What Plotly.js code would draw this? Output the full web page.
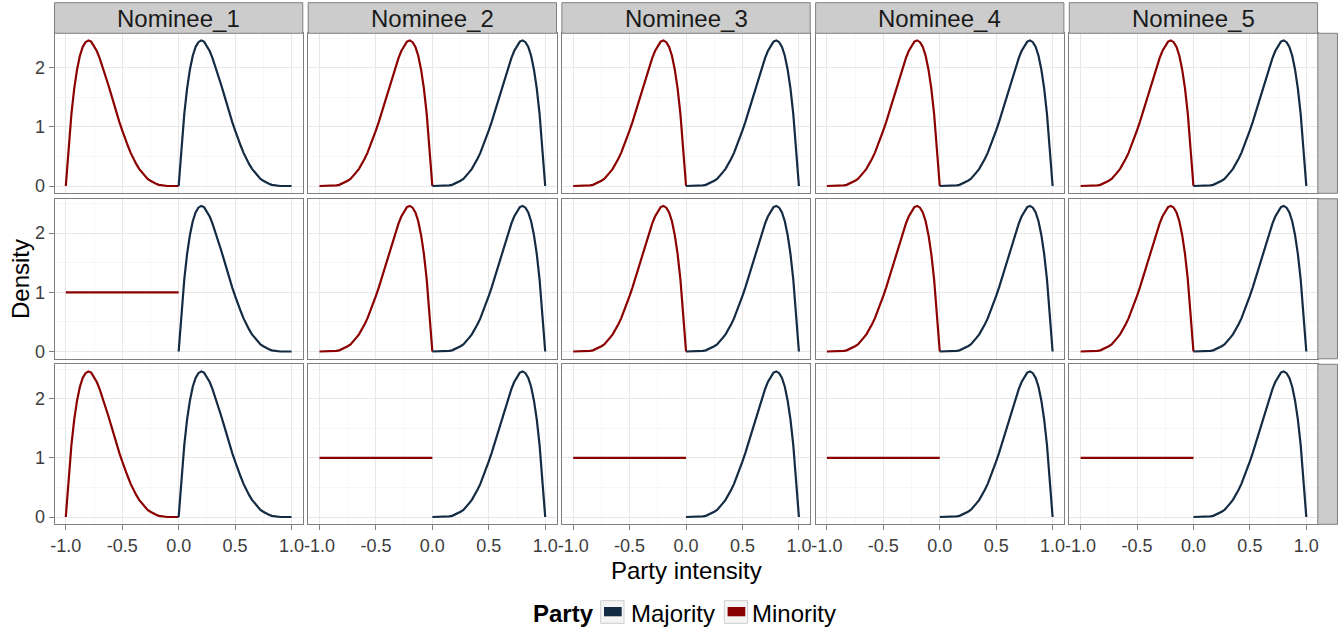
<!DOCTYPE html>
<html>
<head>
<meta charset="utf-8">
<script src="https://cdn.plot.ly/plotly-3.0.1.min.js"></script>
<style>html,body{margin:0;padding:0;background:#fff;}#chart{width:1344px;height:635px;}</style>
</head>
<body>
<div id="chart"></div>
<script>
// ---------------- data ----------------
var nominees = ["Nominee_1", "Nominee_2", "Nominee_3", "Nominee_4", "Nominee_5"];
var partyLabels = ["Majority", "Minority"];
var xTickVals = [-1, -0.5, 0, 0.5, 1];
var xTickText = ["-1.0", "-0.5", "0.0", "0.5", "1.0"];
var yTickVals = [0, 1, 2];
var yTickText = ["0", "1", "2"];

// party intensity grid for the majority side (0..1) and minority side (-1..0)
var majorityX = [0,0.025,0.05,0.075,0.1,0.125,0.15,0.175,0.2,0.225,0.25,0.275,0.3,0.325,0.35,0.375,0.4,0.425,0.45,0.475,0.5,
                 0.525,0.55,0.575,0.6,0.625,0.65,0.675,0.7,0.725,0.75,0.775,0.8,0.825,0.85,0.875,0.9,0.925,0.95,0.975,1];
var minorityX = [-1,-0.975,-0.95,-0.925,-0.9,-0.875,-0.85,-0.825,-0.8,-0.775,-0.75,-0.725,-0.7,-0.675,-0.65,-0.625,-0.6,-0.575,-0.55,-0.525,-0.5,
                 -0.475,-0.45,-0.425,-0.4,-0.375,-0.35,-0.325,-0.3,-0.275,-0.25,-0.225,-0.2,-0.175,-0.15,-0.125,-0.1,-0.075,-0.05,-0.025,0];
// density curve peaking near the low end of its interval
var densityPeakLow = [0,0.68,1.22,1.65,1.97,2.20,2.35,2.43,2.46,2.44,2.37,2.28,2.16,2.02,1.87,1.72,1.56,1.39,1.24,1.08,0.94,
                      0.80,0.68,0.56,0.46,0.37,0.29,0.23,0.17,0.12,0.09,0.06,0.04,0.02,0.01,0.01,0.00,0,0,0,0];
// density curve peaking near the high end of its interval
var densityPeakHigh = [0,0,0,0,0.00,0.01,0.01,0.02,0.04,0.06,0.09,0.12,0.17,0.23,0.29,0.37,0.46,0.56,0.68,0.80,0.94,
                       1.08,1.24,1.39,1.56,1.72,1.87,2.02,2.16,2.28,2.37,2.44,2.46,2.43,2.35,2.20,1.97,1.65,1.22,0.68,0];
// flat density for the minority side
var uniformX = [-1, 0];
var uniformY = [1, 1];

// which curve each panel shows: rows x columns
var majorityShape = [
  ["low","high","high","high","high"],
  ["low","high","high","high","high"],
  ["low","high","high","high","high"]
];
var minorityShape = [
  ["low","high","high","high","high"],
  ["flat","high","high","high","high"],
  ["low","flat","flat","flat","flat"]
];

// ---------------- styling / layout ----------------
var W = 1344, H = 635;
var colMajority = "#132B43", colMinority = "#8B0000";
var FONT = "Liberation Sans, Arial, sans-serif";
function px(x){ return x / W; }
function py(y){ return 1 - y / H; }

var panelLeft0 = 54.5, panelW = 248.3, panelStepX = 253.7;
var panelTop0 = 33.3, panelH = 160, panelStepY = 165.5;
var stripTop = 2.7;
var rightStripL = 1317.8, rightStripR = 1337.5;

function curveFor(kind, side){
  if (kind === "flat") return {x: uniformX, y: uniformY};
  var xs = side === "maj" ? majorityX : minorityX;
  return {x: xs, y: kind === "low" ? densityPeakLow : densityPeakHigh};
}

var traces = [];
var layout = {
  width: W, height: H,
  margin: {l:0, r:0, t:0, b:0},
  paper_bgcolor: "#ffffff", plot_bgcolor: "#ffffff",
  showlegend: false,
  font: {family: FONT, size: 18, color: "#4d4d4d"},
  shapes: [], annotations: []
};

for (var r = 0; r < 3; r++){
  for (var c = 0; c < 5; c++){
    var idx = r * 5 + c + 1;
    var xa = "x" + (idx === 1 ? "" : idx), ya = "y" + (idx === 1 ? "" : idx);
    var xKey = "xaxis" + (idx === 1 ? "" : idx), yKey = "yaxis" + (idx === 1 ? "" : idx);
    var L = panelLeft0 + c * panelStepX, T = panelTop0 + r * panelStepY;
    layout[xKey] = {
      domain: [px(L), px(L + panelW)], anchor: ya, range: [-1.1, 1.1],
      tickvals: xTickVals, ticktext: xTickText,
      showticklabels: r === 2, ticks: r === 2 ? "outside" : "", ticklen: 5, tickcolor: "#7f7f7f",
      tickfont: {size: 18, color: "#3d3d3d", family: FONT},
      showgrid: true, gridcolor: "#e8e8e8", gridwidth: 1, zeroline: false,
      minor: {tick0: -1, dtick: 0.25, showgrid: true, gridcolor: "#f7f7f7", gridwidth: 1},
      showline: true, mirror: true, linecolor: "#7f7f7f", linewidth: 1, fixedrange: true
    };
    layout[yKey] = {
      domain: [py(T + panelH), py(T)], anchor: xa, range: [-0.123, 2.58],
      tickvals: yTickVals, ticktext: yTickText,
      showticklabels: c === 0, ticks: c === 0 ? "outside" : "", ticklen: 5, tickcolor: "#7f7f7f",
      tickfont: {size: 18, color: "#3d3d3d", family: FONT},
      showgrid: true, gridcolor: "#e8e8e8", gridwidth: 1, zeroline: false,
      minor: {tick0: 0, dtick: 0.5, showgrid: true, gridcolor: "#f7f7f7", gridwidth: 1},
      showline: true, mirror: true, linecolor: "#7f7f7f", linewidth: 1, fixedrange: true
    };
    var mn = curveFor(minorityShape[r][c], "min");
    var mj = curveFor(majorityShape[r][c], "maj");
    traces.push({x: mn.x, y: mn.y, xaxis: xa, yaxis: ya, type: "scatter", mode: "lines",
                 line: {color: colMinority, width: 2.2}, name: partyLabels[1], hoverinfo: "skip"});
    traces.push({x: mj.x, y: mj.y, xaxis: xa, yaxis: ya, type: "scatter", mode: "lines",
                 line: {color: colMajority, width: 2.2}, name: partyLabels[0], hoverinfo: "skip"});
  }
}

// top strips
for (var c2 = 0; c2 < 5; c2++){
  var L2 = panelLeft0 + c2 * panelStepX;
  layout.shapes.push({type: "rect", xref: "paper", yref: "paper", layer: "above",
    x0: px(L2), x1: px(L2 + panelW), y0: py(panelTop0), y1: py(stripTop),
    fillcolor: "#cccccc", line: {color: "#7f7f7f", width: 1}});
  layout.annotations.push({xref: "paper", yref: "paper", x: px(L2 + panelW / 2), y: py(18.3),
    text: nominees[c2], showarrow: false, xanchor: "center", yanchor: "middle",
    font: {family: FONT, size: 24, color: "#1a1a1a"}});
}
// right strips (empty)
for (var r2 = 0; r2 < 3; r2++){
  var T2 = panelTop0 + r2 * panelStepY;
  layout.shapes.push({type: "rect", xref: "paper", yref: "paper", layer: "above",
    x0: px(rightStripL), x1: px(rightStripR), y0: py(T2 + panelH), y1: py(T2),
    fillcolor: "#cccccc", line: {color: "#7f7f7f", width: 1}});
}

// axis titles
layout.annotations.push({xref: "paper", yref: "paper", x: px(686), y: py(570), text: "Party intensity",
  showarrow: false, xanchor: "center", yanchor: "middle", font: {family: FONT, size: 24, color: "#000000"}});
layout.annotations.push({xref: "paper", yref: "paper", x: px(20), y: py(279), text: "Density", textangle: -90,
  showarrow: false, xanchor: "center", yanchor: "middle", font: {family: FONT, size: 24, color: "#000000"}});

// legend (drawn manually)
layout.annotations.push({xref: "paper", yref: "paper", x: px(531), y: py(613), text: "<b>Party</b>",
  showarrow: false, xanchor: "left", yanchor: "middle", font: {family: FONT, size: 24, color: "#000000"}});
var keyLefts = [600.7, 724.3], keyText = [629, 750], keyColors = [colMajority, colMinority];
for (var k = 0; k < 2; k++){
  layout.shapes.push({type: "rect", xref: "paper", yref: "paper",
    x0: px(keyLefts[k]), x1: px(keyLefts[k] + 23.3), y0: py(623.3), y1: py(600.7),
    fillcolor: "#f5f5f5", line: {color: "#cccccc", width: 1}});
  layout.shapes.push({type: "rect", xref: "paper", yref: "paper",
    x0: px(keyLefts[k] + 3.3), x1: px(keyLefts[k] + 21), y0: py(616.3), y1: py(607),
    fillcolor: keyColors[k], line: {width: 0}});
  layout.annotations.push({xref: "paper", yref: "paper", x: px(keyText[k]), y: py(613), text: partyLabels[k],
    showarrow: false, xanchor: "left", yanchor: "middle", font: {family: FONT, size: 24, color: "#000000"}});
}

Plotly.newPlot("chart", traces, layout, {staticPlot: true, displayModeBar: false});
</script>
</body>
</html>
